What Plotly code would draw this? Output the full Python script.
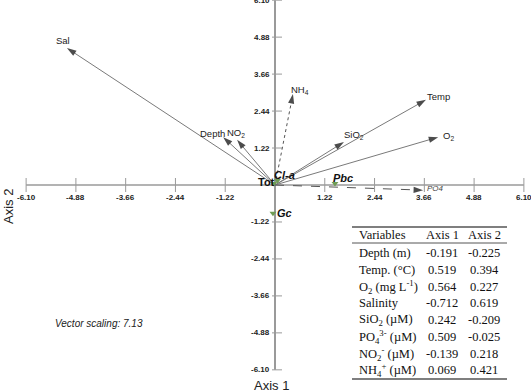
import plotly.graph_objects as go

# ---------------- data ----------------
env_names = ["Sal", "Depth", "NO<sub>2</sub>", "NH<sub>4</sub>", "Temp", "SiO<sub>2</sub>", "O<sub>2</sub>", "PO4"]
env_x = [-5.10, -1.27, -0.93, 0.44, 3.70, 1.69, 4.00, 3.63]
env_y = [4.52, 1.58, 1.49, 3.00, 2.81, 1.42, 1.58, -0.17]

species_names = ["Tot", "Cl-a", "Pbc", "Gc"]
species_x = [-0.03, 0.06, 1.47, -0.05]
species_y = [0.05, 0.15, 0.05, -0.93]

tick_values = [-6.10, -4.88, -3.66, -2.44, -1.22, 1.22, 2.44, 3.66, 4.88, 6.10]
tick_labels = ["-6.10", "-4.88", "-3.66", "-2.44", "-1.22", "1.22", "2.44", "3.66", "4.88", "6.10"]

table_header = ["Variables", "Axis 1", "Axis 2"]
table_vars = ["Depth (m)", "Temp. (°C)", "O<sub>2</sub> (mg L<sup>-1</sup>)", "Salinity",
              "SiO<sub>2</sub> (µM)", "PO<sub>4</sub><sup>3-</sup> (µM)",
              "NO<sub>2</sub><sup>-</sup> (µM)", "NH<sub>4</sub><sup>+</sup> (µM)"]
table_axis1 = ["-0.191", "0.519", "0.564", "-0.712", "0.242", "0.509", "-0.139", "0.069"]
table_axis2 = ["-0.225", "0.394", "0.227", "0.619", "-0.209", "-0.025", "0.218", "0.421"]

vector_scaling = 7.13

# ---------------- figure ----------------
W, H = 531, 392
X0PX, Y0PX = 275, 185
SX, SY = 40.8, 30.3
xr = [(0 - X0PX) / SX, (W - X0PX) / SX]
yr = [(Y0PX - H) / SY, Y0PX / SY]

fig = go.Figure()

axis_col = "#9a9a9a"
fig.add_shape(type="line", x0=tick_values[0], x1=tick_values[-1], y0=0, y1=0,
              line=dict(color=axis_col, width=1.5), layer="below")
fig.add_shape(type="line", x0=0, x1=0, y0=tick_values[0], y1=tick_values[-1],
              line=dict(color=axis_col, width=2), layer="below")

tick_font = dict(family="Liberation Sans Narrow, Liberation Sans, Arial", size=8, color="#222")
for v, lab in zip(tick_values, tick_labels):
    fig.add_shape(type="line", x0=v, x1=v, y0=-7 / SY, y1=7 / SY,
                  line=dict(color=axis_col, width=1), layer="below")
    fig.add_annotation(x=v, y=0, text="<b>" + lab + "</b>", showarrow=False,
                       xanchor="center", yanchor="top", yshift=-6, font=tick_font)
    fig.add_shape(type="line", y0=v, y1=v, x0=-3 / SX, x1=7 / SX,
                  line=dict(color=axis_col, width=1), layer="below")
    fig.add_annotation(x=0, y=v, text="<b>" + lab + "</b>", showarrow=False,
                       xanchor="right", yanchor="middle", xshift=-3, font=tick_font)

dashes = ["solid", "solid", "solid", "dot", "solid", "solid", "solid", "dash"]
label_shift = [(-4, 8), (-11, 4), (-1, 7), (7, 4), (13, 3), (10, 7), (10, 1), (12, 2)]
for i, name in enumerate(env_names):
    fig.add_trace(go.Scatter(
        x=[0, env_x[i]], y=[0, env_y[i]], mode="lines+markers",
        line=dict(color="#7a7a7a" if dashes[i] == "solid" else "#555", width=1, dash=dashes[i]),
        marker=dict(symbol="arrow", size=[0, 10], color="black", angleref="previous",
                    line=dict(width=0)),
        hoverinfo="skip", showlegend=False))
    fs, fst, col = 9.5, "normal", "#222"
    if name == "PO4":
        fs, fst, col = 8, "italic", "#444"
    fig.add_annotation(x=env_x[i], y=env_y[i], text=name, showarrow=False,
                       xshift=label_shift[i][0], yshift=label_shift[i][1],
                       xanchor="center", yanchor="middle",
                       font=dict(family="Liberation Sans, Arial", size=fs, color=col, style=fst))

fig.add_trace(go.Scatter(x=species_x, y=species_y, mode="markers",
                         marker=dict(symbol="triangle-down", size=6, color="#6f9c55"),
                         hoverinfo="skip", showlegend=False))
sp_shift = [(-7, 1), (7, 5), (8, 5), (12, 0)]
for i, name in enumerate(species_names):
    txt = "<b>" + name + "</b>" if name == "Tot" else "<b><i>" + name + "</i></b>"
    fig.add_annotation(x=species_x[i], y=species_y[i], text=txt, showarrow=False,
                       xshift=sp_shift[i][0], yshift=sp_shift[i][1],
                       xanchor="center", yanchor="middle",
                       font=dict(family="Liberation Sans, Arial", size=11, color="#111"))

fig.add_annotation(xref="paper", yref="paper", x=271 / W, y=1 - 385 / H, text="Axis 1",
                   showarrow=False, xanchor="center", yanchor="middle",
                   font=dict(family="Liberation Sans, Arial", size=13, color="#222"))
fig.add_annotation(xref="paper", yref="paper", x=9 / W, y=1 - 207 / H, text="Axis 2",
                   showarrow=False, textangle=-90, xanchor="center", yanchor="middle",
                   font=dict(family="Liberation Sans, Arial", size=13, color="#222"))

fig.add_annotation(xref="paper", yref="paper", x=99 / W, y=1 - 323 / H,
                   text="Vector scaling: %.2f" % vector_scaling, showarrow=False,
                   xanchor="center", yanchor="middle",
                   font=dict(family="Liberation Sans, Arial", size=10, color="#222", style="italic"))

# table
tfont = dict(family="Liberation Serif, Times New Roman", size=12.5, color="#111")
tx0, tx1 = 352, 507
for yy, wdt in [(227, 1.3), (243, 1), (379, 1.3)]:
    fig.add_shape(type="line", xref="paper", yref="paper", x0=tx0 / W, x1=tx1 / W,
                  y0=1 - yy / H, y1=1 - yy / H, line=dict(color="#555", width=wdt))
col_x = [357, 442, 484]
fig.add_annotation(xref="paper", yref="paper", x=col_x[0] / W, y=1 - 235 / H, text=table_header[0],
                   showarrow=False, xanchor="left", yanchor="middle", font=tfont)
for j in (1, 2):
    fig.add_annotation(xref="paper", yref="paper", x=col_x[j] / W, y=1 - 235 / H, text=table_header[j],
                       showarrow=False, xanchor="center", yanchor="middle", font=tfont)
row0, dy = 253, 16.75
for r in range(len(table_vars)):
    yy = 1 - (row0 + r * dy) / H
    fig.add_annotation(xref="paper", yref="paper", x=col_x[0] / W, y=yy, text=table_vars[r],
                       showarrow=False, xanchor="left", yanchor="middle", font=tfont)
    fig.add_annotation(xref="paper", yref="paper", x=col_x[1] / W, y=yy, text=table_axis1[r],
                       showarrow=False, xanchor="center", yanchor="middle", font=tfont)
    fig.add_annotation(xref="paper", yref="paper", x=col_x[2] / W, y=yy, text=table_axis2[r],
                       showarrow=False, xanchor="center", yanchor="middle", font=tfont)

fig.update_layout(
    width=W, height=H, margin=dict(l=0, r=0, t=0, b=0),
    paper_bgcolor="white", plot_bgcolor="white",
    xaxis=dict(range=xr, visible=False, fixedrange=True),
    yaxis=dict(range=yr, visible=False, fixedrange=True),
    showlegend=False,
)

fig.write_html("out.html", config={"displayModeBar": False},
               post_script="document.body.style.margin='0px';")
